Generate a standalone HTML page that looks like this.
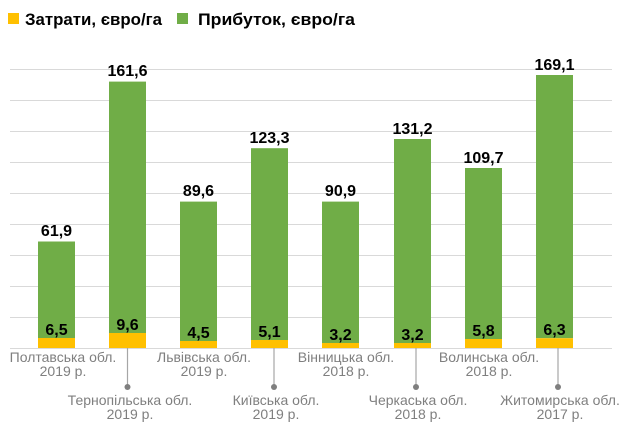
<!DOCTYPE html>
<html><head><meta charset="utf-8"><style>
body{margin:0;background:#fff;}
svg{display:block;font-family:"Liberation Sans",sans-serif;}
.v{font-weight:bold;font-size:16px;fill:#000;text-anchor:middle;}
.c{font-size:14px;fill:#7f7f7f;text-anchor:middle;font-family:"Liberation Sans Narrow","Liberation Sans",sans-serif;}
</style></head><body>
<svg width="629" height="433" viewBox="0 0 629 433">
<rect x="8" y="13" width="11" height="11" fill="#ffc000"/>
<text x="25" y="25" font-size="17" font-weight="bold" fill="#000" textLength="137" lengthAdjust="spacingAndGlyphs">Затрати, євро/га</text>
<rect x="177" y="13" width="11" height="11" fill="#70ad47"/>
<text x="198" y="25" font-size="17" font-weight="bold" fill="#000" textLength="157" lengthAdjust="spacingAndGlyphs">Прибуток,  євро/га</text>
<g stroke="#d9d9d9" stroke-width="1">
<line x1="10" x2="612" y1="69.5" y2="69.5"/><line x1="10" x2="612" y1="100.5" y2="100.5"/>
<line x1="10" x2="612" y1="131.5" y2="131.5"/><line x1="10" x2="612" y1="162.5" y2="162.5"/>
<line x1="10" x2="612" y1="193.5" y2="193.5"/><line x1="10" x2="612" y1="224.5" y2="224.5"/>
<line x1="10" x2="612" y1="255.5" y2="255.5"/><line x1="10" x2="612" y1="286.5" y2="286.5"/>
<line x1="10" x2="612" y1="317.5" y2="317.5"/><line x1="10" x2="612" y1="348.5" y2="348.5"/>
</g>
<g>
<rect x="38" y="241.5" width="37" height="96.5" fill="#70ad47"/><rect x="38" y="338" width="37" height="10" fill="#ffc000"/>
<text class="v" x="56.5" y="236">61,9</text><text class="v" x="56.5" y="335">6,5</text>

<rect x="109" y="81.6" width="37" height="251.4" fill="#70ad47"/><rect x="109" y="333" width="37" height="15" fill="#ffc000"/>
<text class="v" x="127.5" y="76">161,6</text><text class="v" x="127.5" y="330">9,6</text>

<rect x="180" y="201.6" width="37" height="139.4" fill="#70ad47"/><rect x="180" y="341" width="37" height="7" fill="#ffc000"/>
<text class="v" x="198.5" y="196">89,6</text><text class="v" x="198.5" y="338">4,5</text>

<rect x="251" y="148.2" width="37" height="191.8" fill="#70ad47"/><rect x="251" y="340" width="37" height="8" fill="#ffc000"/>
<text class="v" x="269.5" y="143">123,3</text><text class="v" x="269.5" y="337">5,1</text>

<rect x="322" y="201.6" width="37" height="141.4" fill="#70ad47"/><rect x="322" y="343" width="37" height="5" fill="#ffc000"/>
<text class="v" x="340.5" y="196">90,9</text><text class="v" x="340.5" y="340">3,2</text>

<rect x="394" y="139" width="37" height="204" fill="#70ad47"/><rect x="394" y="343" width="37" height="5" fill="#ffc000"/>
<text class="v" x="412.5" y="134">131,2</text><text class="v" x="412.5" y="340">3,2</text>

<rect x="465" y="168" width="37" height="171" fill="#70ad47"/><rect x="465" y="339" width="37" height="9" fill="#ffc000"/>
<text class="v" x="483.5" y="163">109,7</text><text class="v" x="483.5" y="336">5,8</text>

<rect x="536" y="75" width="37" height="263.2" fill="#70ad47"/><rect x="536" y="338.2" width="37" height="9.8" fill="#ffc000"/>
<text class="v" x="554.5" y="70">169,1</text><text class="v" x="554.5" y="335">6,3</text>
</g>
<g stroke="#a6a6a6" stroke-width="1.2" fill="#7f7f7f">
<line x1="127.5" y1="348" x2="127.5" y2="386"/><circle cx="127.5" cy="387" r="3" stroke="none"/>
<line x1="274" y1="348" x2="274" y2="386"/><circle cx="274" cy="387" r="3" stroke="none"/>
<line x1="416" y1="348" x2="416" y2="386"/><circle cx="416" cy="387" r="3" stroke="none"/>
<line x1="558" y1="348" x2="558" y2="386"/><circle cx="558" cy="387" r="3" stroke="none"/>
</g>
<text class="c" x="63" y="362">Полтавська обл.</text><text class="c" x="63" y="376">2019 р.</text>
<text class="c" x="130" y="405">Тернопільська обл.</text><text class="c" x="130" y="419">2019 р.</text>
<text class="c" x="204" y="362">Львівська обл.</text><text class="c" x="204" y="376">2019 р.</text>
<text class="c" x="276" y="405">Київська обл.</text><text class="c" x="276" y="419">2019 р.</text>
<text class="c" x="346" y="362">Вінницька обл.</text><text class="c" x="346" y="376">2018 р.</text>
<text class="c" x="418" y="405">Черкаська обл.</text><text class="c" x="418" y="419">2018 р.</text>
<text class="c" x="489" y="362">Волинська обл.</text><text class="c" x="489" y="376">2018 р.</text>
<text class="c" x="560" y="405">Житомирська обл.</text><text class="c" x="560" y="419">2017 р.</text>
</svg>
</body></html>
